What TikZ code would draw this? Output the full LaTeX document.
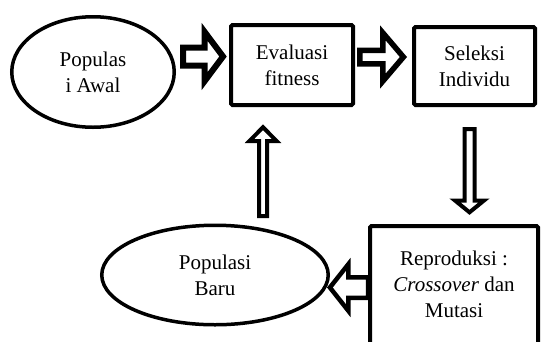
\documentclass[tikz,border=0pt]{standalone}
\usepackage{fontspec}
\setmainfont{Liberation Serif}
\usetikzlibrary{shapes.geometric}

\tikzset{
  box/.style={draw, line width=4pt, rounded corners=1.5pt, align=center},
  oval/.style={draw, ellipse, line width=3.5pt, align=center, inner sep=0pt},
  blockarrow/.style={draw, line width=5.5pt, line join=miter, fill=white},
}

\begin{document}
\begin{tikzpicture}[x=1pt, y=-1pt, font=\fontsize{21}{26}\selectfont]
  \path[use as bounding box, clip] (0,0) rectangle (543,341);

  % stages
  \node[oval, minimum width=162.5, minimum height=110.5] (awal) at (93,72) {Populas\\i Awal};
  \node[box, minimum width=122, minimum height=80] (eval) at (292,65) {Evaluasi\\fitness};
  \node[box, minimum width=121, minimum height=78] (seleksi) at (474.5,66) {Seleksi\\Individu};
  \node[box, minimum width=168, minimum height=140, anchor=north] (repro) at (454,224) {};
  \node[align=center] (reprotext) at (454,284) {Reproduksi :\\\textit{Crossover} dan\\Mutasi};
  \node[oval, minimum width=226.5, minimum height=99.5] (baru) at (215,275) {Populasi\\Baru};

  % block arrows
  \draw[blockarrow, line width=6pt] (183,47.5) -- (204.7,47.5) -- (204.7,32) -- (223,56.5)
    -- (204.7,81) -- (204.7,65.5) -- (183,65.5) -- cycle;
  \draw[blockarrow] (359.75,50.25) -- (382.75,50.25) -- (382.75,32.75) -- (403.4,57)
    -- (382.75,81.25) -- (382.75,63.75) -- (359.75,63.75) -- cycle;
  \draw[blockarrow, line width=4pt] (464.5,129) -- (464.5,200.5) -- (455,200.5) -- (469.5,212.3)
    -- (484,200.5) -- (474.5,200.5) -- (474.5,129) -- cycle;
  \draw[blockarrow, line width=4pt] (259,216) -- (259,141) -- (249.5,141) -- (263,127.2)
    -- (276.5,141) -- (267,141) -- (267,216) -- cycle;
  \draw[blockarrow, line width=4.5pt] (368,277.25) -- (348.3,277.25) -- (348.3,264.25) -- (329.9,287.5)
    -- (348.3,310.75) -- (348.3,297.75) -- (368,297.75) -- cycle;
\end{tikzpicture}
\end{document}
